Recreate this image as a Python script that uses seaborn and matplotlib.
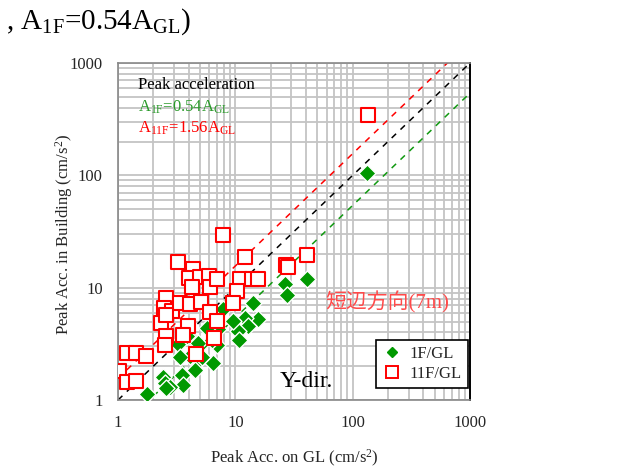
import numpy as np
import pandas as pd
import matplotlib
matplotlib.use("Agg")
import matplotlib.pyplot as plt
import seaborn as sns
from matplotlib.lines import Line2D

# 11F / GL peak accelerations (cm/s2)
gl_11f = [7.85, 3.25, 12.1, 4.36, 4.03, 5.0, 5.97, 6.1, 4.27, 6.98, 27.0, 28.2, 40.8,
          11.0, 13.9, 15.6, 10.3, 9.6, 2.57, 2.47, 2.89, 3.38, 4.11, 5.1, 6.1, 2.33,
          2.57, 6.98, 3.95, 3.58, 2.57, 2.52, 6.58, 4.62, 1.19, 1.42, 1.73, 1.02, 1.19,
          1.42, 135]
bld_11f = [29.5, 16.9, 18.8, 14.7, 12.2, 12.5, 12.7, 10.1, 10.1, 11.9, 15.9, 15.3, 19.6,
           11.9, 11.9, 11.9, 9.35, 7.3, 8.1, 6.6, 6.2, 7.3, 7.16, 7.46, 6.08, 4.85,
           5.71, 5.05, 4.56, 3.79, 3.71, 3.09, 3.57, 2.57, 2.62, 2.62, 2.46, 1.81, 1.45,
           1.48, 345]

# 1F / GL peak accelerations (cm/s2)
gl_1f = [133, 40.8, 26.5, 27.6, 14.2, 15.6, 12.1, 12.8, 10.5, 10.8, 9.6, 7.85, 6.1,
         7.1, 7.0, 5.0, 4.11, 3.25, 4.11, 3.38, 5.0, 6.45, 4.53, 3.51, 3.58, 2.42,
         2.52, 2.78, 1.77, 3.88, 4.81, 5.2, 6.33, 5.74, 2.57]
bld_1f = [105, 11.9, 10.8, 8.6, 7.3, 5.26, 5.37, 4.56, 4.12, 3.42, 5.05, 6.46, 4.47,
          4.29, 3.09, 3.09, 3.64, 3.15, 2.46, 2.41, 2.32, 2.14, 1.85, 1.67, 1.36, 1.60,
          1.42, 1.31, 1.13, 3.71, 3.22, 2.41, 3.42, 4.38, 1.28]

ratio_1f = 0.54
ratio_11f = 1.56
ticks = [1, 10, 100, 1000]

sns.set_style("white")
plt.rcParams['font.family'] = ['Liberation Serif', 'Noto Sans CJK JP', 'DejaVu Sans']
plt.rcParams['mathtext.fontset'] = 'custom'
plt.rcParams['mathtext.rm'] = 'Liberation Serif'
plt.rcParams['mathtext.it'] = 'Liberation Serif'

fig = plt.figure(figsize=(6.44, 4.72), dpi=100)
ax = fig.add_axes([0.1832, 0.1525, 0.5466, 0.714])
ax.set_xscale('log')
ax.set_yscale('log')
ax.set_xlim(1, 1000)
ax.set_ylim(1, 1000)

ax.grid(True, which='both', color='#c4c4c4', lw=1.3)
ax.set_axisbelow(True)

gx = np.array([1, 1000])
ax.plot(gx, gx * ratio_11f, ls=(0, (4, 4)), color='red', lw=1.1, zorder=2)
ax.plot(gx, gx, ls=(0, (4, 4)), color='black', lw=1.1, zorder=2)
ax.plot(gx, gx * ratio_1f, ls=(0, (4, 4)), color='#119911', lw=1.1, zorder=2)

df1 = pd.DataFrame({'gl': gl_1f, 'bld': bld_1f})
df11 = pd.DataFrame({'gl': gl_11f, 'bld': bld_11f})
sns.scatterplot(data=df1, x='gl', y='bld', ax=ax, marker='D', s=75,
                color='#009900', edgecolor='white', linewidth=1.0, zorder=3)
sns.scatterplot(data=df11, x='gl', y='bld', ax=ax, marker='s', s=90,
                facecolor='white', edgecolor='red', linewidth=1.5, zorder=4)

ax.set_xticks(ticks)
ax.set_yticks(ticks)
ax.set_xticklabels([str(t) for t in ticks], fontsize=12)
ax.set_yticklabels([str(t) for t in ticks], fontsize=12)
ax.tick_params(axis='both', which='major', direction='out', length=4, color='#888888', pad=7)
ax.tick_params(axis='x', which='minor', length=0)
ax.tick_params(axis='y', which='minor', direction='out', length=4, color='#888888')
for s in ['left', 'bottom', 'top']:
    ax.spines[s].set_color('#888888')
    ax.spines[s].set_linewidth(1.2)
ax.spines['right'].set_color('black')
ax.spines['right'].set_linewidth(1.4)

ax.set_xlabel('Peak Acc. on GL (cm/s$^2$)', fontsize=12, labelpad=12)
ax.set_ylabel('Peak Acc. in Building (cm/s$^2$)', fontsize=12)
ax.yaxis.set_label_coords(-0.122, 0.49)

ax.text(0.057, 0.935, 'Peak acceleration', transform=ax.transAxes, fontsize=12,
        va='center', color='black')
ax.text(0.057, 0.87, 'A$_{\\mathrm{1F}}$=0.54A$_{\\mathrm{GL}}$', transform=ax.transAxes,
        fontsize=12, va='center', color='#2a9a2a')
ax.text(0.057, 0.805, 'A$_{\\mathrm{11F}}$=1.56A$_{\\mathrm{GL}}$', transform=ax.transAxes,
        fontsize=12, va='center', color='red')
ax.text(0.59, 0.29, '短辺方向(7m)', transform=ax.transAxes, fontsize=15,
        va='center', color='#ff4a4a')
ax.text(0.46, 0.055, 'Y-dir.', transform=ax.transAxes, fontsize=17,
        va='center', color='black')

handles = [Line2D([], [], ls='', marker='D', ms=5, color='#009900', mec='#009900'),
           Line2D([], [], ls='', marker='s', ms=9, mfc='white', mec='red', mew=1.4)]
leg = ax.legend(handles, ['1F/GL', '11F/GL'], loc='lower right',
                bbox_to_anchor=(0.994, 0.036), borderaxespad=0, fontsize=12,
                frameon=True, fancybox=False, edgecolor='black', framealpha=1,
                handletextpad=0.4, handlelength=1.3,
                borderpad=0.35, labelspacing=0.25)
leg.get_frame().set_linewidth(1.2)

fig.text(0.0098, 0.955, ', A$_{\\mathrm{1F}}$=0.54A$_{\\mathrm{GL}}$)', fontsize=21,
         va='center', ha='left', color='black')

fig.savefig('out.png', dpi=100)
